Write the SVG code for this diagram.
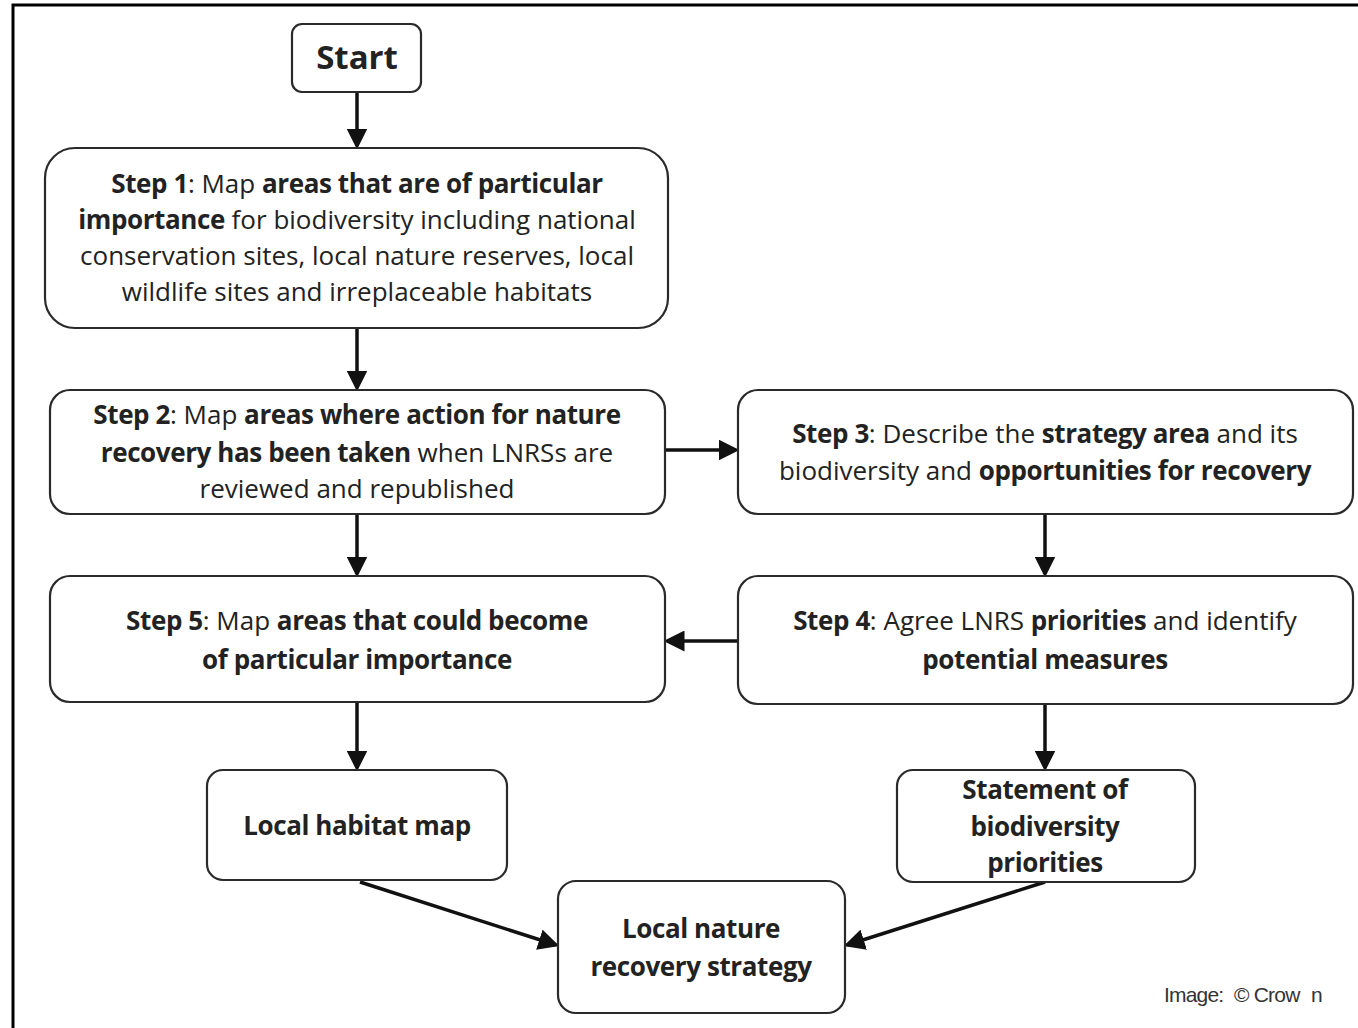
<svg xmlns="http://www.w3.org/2000/svg" width="1358" height="1028" viewBox="0 0 1358 1028">
<defs>
<marker id="ah" markerWidth="6" markerHeight="6" refX="5" refY="3" orient="auto" markerUnits="strokeWidth">
<path d="M0,0 L6,3 L0,6 z" fill="#111"/>
</marker>
<style>
.box{fill:#fff;stroke:#2a2a2a;stroke-width:2.2}
.t{font-family:"Open Sans",Lato,sans-serif;font-size:26px;fill:#222;text-anchor:middle;letter-spacing:0px}
.b{font-weight:bold;letter-spacing:-0.4px}
.c{stroke:#111;stroke-width:3.5;fill:none;marker-end:url(#ah)}
.cap{font-family:"Liberation Sans",Arial,sans-serif;font-size:21px;fill:#333;letter-spacing:-0.8px}
</style>
</defs>
<rect width="1358" height="1028" fill="#fff"/>
<path d="M13,1028 V5 H1358" fill="none" stroke="#000" stroke-width="3"/>
<g id="connectors">
<line class="c" x1="357" y1="92" x2="357" y2="146"/>
<line class="c" x1="357" y1="328" x2="357" y2="388"/>
<line class="c" x1="665" y1="450" x2="736" y2="450"/>
<line class="c" x1="357" y1="514" x2="357" y2="574"/>
<line class="c" x1="1045" y1="514" x2="1045" y2="574"/>
<line class="c" x1="738" y1="641" x2="667" y2="641"/>
<line class="c" x1="357" y1="702" x2="357" y2="768"/>
<line class="c" x1="1045" y1="704" x2="1045" y2="768"/>
<line class="c" x1="360" y1="882" x2="556" y2="945"/>
<line class="c" x1="1045" y1="882" x2="847" y2="945"/>
</g>
<g id="start">
<rect class="box" x="292" y="24" width="129" height="68" rx="10"/>
<text class="t b" x="357" y="69" style="font-size:33px;letter-spacing:0">Start</text>
</g>
<g id="step1">
<rect class="box" x="45" y="148" width="623" height="180" rx="30"/>
<text class="t" x="357" y="193"><tspan class="b">Step 1</tspan>: Map <tspan class="b">areas that are of particular</tspan></text>
<text class="t" x="357" y="229"><tspan class="b">importance</tspan> for biodiversity including national</text>
<text class="t" x="357" y="265">conservation sites, local nature reserves, local</text>
<text class="t" x="357" y="301">wildlife sites and irreplaceable habitats</text>
</g>
<g id="step2">
<rect class="box" x="50" y="390" width="615" height="124" rx="20"/>
<text class="t" x="357" y="424"><tspan class="b">Step 2</tspan>: Map <tspan class="b">areas where action for nature</tspan></text>
<text class="t" x="357" y="462"><tspan class="b">recovery has been taken</tspan> when LNRSs are</text>
<text class="t" x="357" y="498">reviewed and republished</text>
</g>
<g id="step3">
<rect class="box" x="738" y="390" width="615" height="124" rx="20"/>
<text class="t" x="1045" y="443"><tspan class="b">Step 3</tspan>: Describe the <tspan class="b">strategy area</tspan> and its</text>
<text class="t" x="1045" y="480">biodiversity and <tspan class="b">opportunities for recovery</tspan></text>
</g>
<g id="step5">
<rect class="box" x="50" y="576" width="615" height="126" rx="20"/>
<text class="t" x="357" y="630"><tspan class="b">Step 5</tspan>: Map <tspan class="b">areas that could become</tspan></text>
<text class="t" x="357" y="669"><tspan class="b">of particular importance</tspan></text>
</g>
<g id="step4">
<rect class="box" x="738" y="576" width="615" height="128" rx="20"/>
<text class="t" x="1045" y="630"><tspan class="b">Step 4</tspan>: Agree LNRS <tspan class="b">priorities</tspan> and identify</text>
<text class="t" x="1045" y="669"><tspan class="b">potential measures</tspan></text>
</g>
<g id="habitat-map">
<rect class="box" x="207" y="770" width="300" height="110" rx="16"/>
<text class="t b" x="357" y="835">Local habitat map</text>
</g>
<g id="statement">
<rect class="box" x="897" y="770" width="298" height="112" rx="16"/>
<text class="t b" x="1045" y="799">Statement of</text>
<text class="t b" x="1045" y="836">biodiversity</text>
<text class="t b" x="1045" y="872">priorities</text>
</g>
<g id="lnrs">
<rect class="box" x="558" y="881" width="287" height="132" rx="18"/>
<text class="t b" x="701" y="938">Local nature</text>
<text class="t b" x="701" y="976">recovery strategy</text>
</g>
<text class="cap" x="1164" y="1002">Image:<tspan x="1234">© Crow</tspan><tspan x="1311">n</tspan></text>
</svg>
